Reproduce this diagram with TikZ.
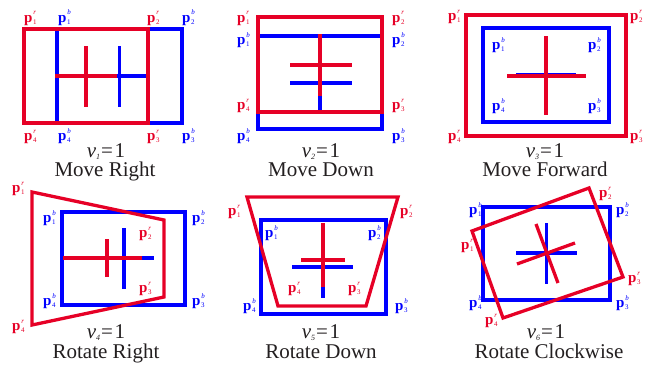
\documentclass[tikz,border=0pt]{standalone}
\usepackage{fontspec}
\setmainfont{Liberation Serif}
\definecolor{rd}{RGB}{230,0,38}
\definecolor{bl}{RGB}{0,0,255}
\definecolor{tx}{RGB}{35,31,32}
\newcommand{\plab}[2]{{\fontsize{15}{15}\selectfont\bfseries p}\makebox[0pt][l]{\hspace{0.8pt}\raisebox{7pt}{\fontsize{7}{7}\selectfont\itshape #1}}\raisebox{-2.8pt}{\fontsize{7}{7}\selectfont\hspace{0.5pt}#2}}
\newcommand{\vcap}[1]{{\itshape v}\raisebox{-2.5pt}{\fontsize{8}{8}\selectfont\itshape #1}\hspace{1pt}=\hspace{1.5pt}1}
\begin{document}
\begin{tikzpicture}[x=1pt,y=-1pt,
  rb/.style={draw=rd,line width=3.3pt},
  bb/.style={draw=bl,line width=3.3pt},
  rl/.style={anchor=base west,inner sep=0pt,text=rd},
  bll/.style={anchor=base west,inner sep=0pt,text=bl},
  captxt/.style={anchor=base,inner sep=0pt,text=tx,font=\fontsize{21}{21}\selectfont}]
\useasboundingbox (0,0) rectangle (646,372);

% ---------- Panel 1: Move Right
\draw[bb] (57,29) rectangle (182,123);
\draw[bb] (119.5,46) -- (119.5,107);
\draw[bb] (89,76) -- (149,76);
\draw[rb] (24,29) rectangle (148,123);
\draw[rb] (86,46) -- (86,107);
\draw[rb] (55,76) -- (117,76);
\node[rl]  (a1r) at (24,22)  {\plab{r}{1}};
\node[bll] (a1b) at (58,22)  {\plab{b}{1}};
\node[rl]  (a2r) at (147,22) {\plab{r}{2}};
\node[bll] (a2b) at (182,22) {\plab{b}{2}};
\node[rl]  (a4r) at (24,140) {\plab{r}{4}};
\node[bll] (a4b) at (58,140) {\plab{b}{4}};
\node[rl]  (a3r) at (147,140){\plab{r}{3}};
\node[bll] (a3b) at (182,140){\plab{b}{3}};
\node[captxt] (av) at (106,157) {\vcap{1}};
\node[captxt] (an) at (105,176) {Move Right};

% ---------- Panel 2: Move Down
\draw[bb] (258,36) rectangle (382,129);
\draw[bb] (320,53) -- (320,113);
\draw[bb] (290,83) -- (352,83);
\draw[rb] (258,17) rectangle (382,112);
\draw[rb] (320,34) -- (320,96);
\draw[rb] (290,65) -- (352,65);
\node[rl]  (b1r) at (237,22)  {\plab{r}{1}};
\node[bll] (b1b) at (237,44)  {\plab{b}{1}};
\node[rl]  (b4r) at (237,109) {\plab{r}{4}};
\node[bll] (b4b) at (237,140) {\plab{b}{4}};
\node[rl]  (b2r) at (392,22)  {\plab{r}{2}};
\node[bll] (b2b) at (392,44)  {\plab{b}{2}};
\node[rl]  (b3r) at (392,109) {\plab{r}{3}};
\node[bll] (b3b) at (392,140) {\plab{b}{3}};
\node[captxt] (bv) at (321,157) {\vcap{2}};
\node[captxt] (bn) at (321,176) {Move Down};

% ---------- Panel 3: Move Forward
\draw[bb] (483,28) rectangle (609,122);
\draw[bb] (546,45) -- (546,105);
\draw[bb] (516,75) -- (576,75);
\draw[rb] (466,15) rectangle (626,136);
\draw[rb] (546,36) -- (546,115);
\draw[rb] (507,76) -- (586,76);
\node[rl]  (c1r) at (448,20)  {\plab{r}{1}};
\node[rl]  (c2r) at (630,20)  {\plab{r}{2}};
\node[rl]  (c4r) at (448,140) {\plab{r}{4}};
\node[rl]  (c3r) at (630,140) {\plab{r}{3}};
\node[bll] (c1b) at (492,49)  {\plab{b}{1}};
\node[bll] (c2b) at (588,49)  {\plab{b}{2}};
\node[bll] (c4b) at (492,110) {\plab{b}{4}};
\node[bll] (c3b) at (588,110) {\plab{b}{3}};
\node[captxt] (cv) at (545,157) {\vcap{3}};
\node[captxt] (cn) at (545,176) {Move Forward};

% ---------- Panel 4: Rotate Right
\draw[bb] (62,212) rectangle (185,305);
\draw[bb] (124,228) -- (124,289);
\draw[bb] (93,258) -- (154,258);
\draw[rb] (32,192) -- (164,220) -- (164,297) -- (32,325) -- cycle;
\draw[rb] (63,258) -- (142,258);
\draw[rb] (107,239) -- (107,277);
\node[rl]  (d1r) at (12,192)  {\plab{r}{1}};
\node[bll] (d1b) at (43,222)  {\plab{b}{1}};
\node[bll] (d2b) at (192,222) {\plab{b}{2}};
\node[rl]  (d2r) at (139,237) {\plab{r}{2}};
\node[rl]  (d3r) at (139,292) {\plab{r}{3}};
\node[bll] (d4b) at (43,305)  {\plab{b}{4}};
\node[bll] (d3b) at (192,305) {\plab{b}{3}};
\node[rl]  (d4r) at (12,330)  {\plab{r}{4}};
\node[captxt] (dv) at (106,338) {\vcap{4}};
\node[captxt] (dn) at (106,358) {Rotate Right};

% ---------- Panel 5: Rotate Down
\draw[bb] (261,220) rectangle (386,314);
\draw[bb] (323,237) -- (323,298);
\draw[bb] (292,267) -- (353,267);
\draw[rb] (247,197) -- (398,197) -- (366,306) -- (278,306) -- cycle;
\draw[rb] (323,223) -- (323,287);
\draw[rb] (301,260) -- (345,260);
\node[rl]  (e1r) at (228,215) {\plab{r}{1}};
\node[rl]  (e2r) at (400,215) {\plab{r}{2}};
\node[bll] (e1b) at (265,237) {\plab{b}{1}};
\node[bll] (e2b) at (368,237) {\plab{b}{2}};
\node[rl]  (e4r) at (288,292) {\plab{r}{4}};
\node[rl]  (e3r) at (348,292) {\plab{r}{3}};
\node[bll] (e4b) at (243,310) {\plab{b}{4}};
\node[bll] (e3b) at (395,310) {\plab{b}{3}};
\node[captxt] (ev) at (321,338) {\vcap{5}};
\node[captxt] (en) at (321,358) {Rotate Down};

% ---------- Panel 6: Rotate Clockwise
\draw[bb] (483,207) rectangle (610,300);
\draw[bb] (546.5,223) -- (546.5,284);
\draw[bb] (516,253) -- (577,253);
\draw[rb] (472,231) -- (589,188) -- (623,277) -- (503,318) -- cycle;
\draw[rb] (536,224) -- (558,283);
\draw[rb] (517,264) -- (575,243);
\node[bll] (f1b) at (469,214) {\plab{b}{1}};
\node[bll] (f2b) at (616,214) {\plab{b}{2}};
\node[rl]  (f1r) at (461,249) {\plab{r}{1}};
\node[rl]  (f2r) at (599,197) {\plab{r}{2}};
\node[rl]  (f3r) at (628,282) {\plab{r}{3}};
\node[bll] (f4b) at (469,307) {\plab{b}{4}};
\node[bll] (f3b) at (616,307) {\plab{b}{3}};
\node[rl]  (f4r) at (485,324) {\plab{r}{4}};
\node[captxt] (fv) at (546,338) {\vcap{6}};
\node[captxt] (fn) at (549,358) {Rotate Clockwise};
\end{tikzpicture}
\end{document}
